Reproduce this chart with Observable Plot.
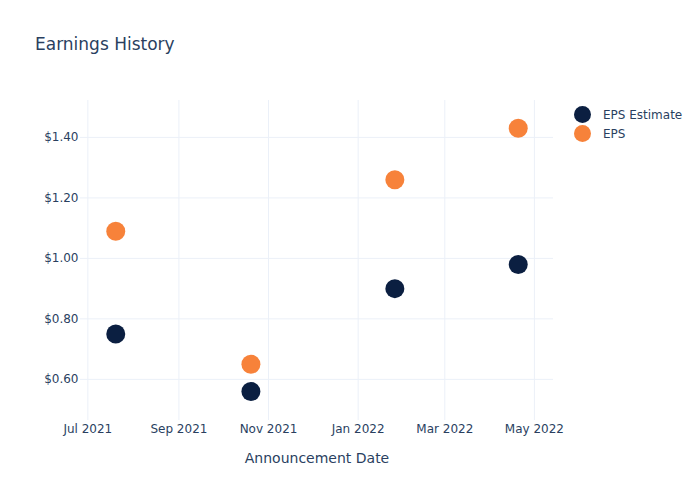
<!DOCTYPE html>
<html>
<head>
<meta charset="utf-8">
<script src="https://cdn.jsdelivr.net/npm/d3@7"></script>
<script src="https://cdn.jsdelivr.net/npm/@observablehq/plot@0.6"></script>
<style>
  html, body { margin: 0; padding: 0; background: #fff; }
  #wrap { position: relative; width: 700px; height: 500px; font-family: "DejaVu Sans", Verdana, sans-serif; color: #2a3f5f; }
  #title { position: absolute; left: 35px; top: 34px; font-size: 17px; color: #2a3f5f; white-space: nowrap; }
  #legend { position: absolute; left: 574px; top: 105px; font-size: 12px; color: #2a3f5f; }
  .item { display: flex; align-items: center; height: 19px; }
  .sw { width: 17px; height: 17px; border-radius: 50%; margin-right: 12px; }
  #chart { position: absolute; left: 0; top: 0; }
  #chart g[aria-label="x-axis label"] text { font-size: 14px; }
</style>
</head>
<body>
<div id="wrap">
  <div id="chart"></div>
  <div id="title">Earnings History</div>
  <div id="legend"></div>
</div>
<script>
const dates = ["2021-07-20", "2021-10-20", "2022-01-26", "2022-04-20"];
const epsEstimate = [0.75, 0.56, 0.90, 0.98];
const eps = [1.09, 0.65, 1.26, 1.43];
const seriesNames = ["EPS Estimate", "EPS"];
const seriesColors = ["#0b1f41", "#f7823a"];
const yTicks = [0.6, 0.8, 1.0, 1.2, 1.4];
const xTicks = ["2021-07-01", "2021-09-01", "2021-11-01", "2022-01-01", "2022-03-01", "2022-05-01"];

const parse = d3.utcParse("%Y-%m-%d");
const rows = [];
dates.forEach((d, i) => rows.push({date: parse(d), value: epsEstimate[i], series: seriesNames[0]}));
dates.forEach((d, i) => rows.push({date: parse(d), value: eps[i], series: seriesNames[1]}));

const chart = Plot.plot({
  width: 700,
  height: 500,
  marginLeft: 80,
  marginRight: 147,
  marginTop: 100,
  marginBottom: 80,
  style: {fontFamily: "DejaVu Sans, Verdana, sans-serif", fontSize: "12px", color: "#2a3f5f", background: "transparent"},
  x: {type: "utc", domain: [parse("2021-06-26"), parse("2022-05-14")]},
  y: {domain: [0.464, 1.522]},
  color: {domain: seriesNames, range: seriesColors},
  marks: [
    Plot.gridX(xTicks.map(parse), {stroke: "#ebf0f8", strokeOpacity: 1, strokeWidth: 1}),
    Plot.gridY(yTicks, {stroke: "#ebf0f8", strokeOpacity: 1, strokeWidth: 1}),
    Plot.axisY(yTicks, {tickSize: 0, tickPadding: 2, tickFormat: v => "$" + d3.format(".2f")(v), label: null, fill: "#2a3f5f"}),
    Plot.axisX(xTicks.map(parse), {tickSize: 0, tickPadding: 4, tickFormat: d3.utcFormat("%b %Y"), label: "Announcement Date", labelAnchor: "center", labelArrow: "none", labelOffset: 42, fill: "#2a3f5f"}),
    Plot.dot(rows, {x: "date", y: "value", fill: "series", r: 9.5, stroke: null})
  ]
});
document.getElementById("chart").appendChild(chart);

const legend = document.getElementById("legend");
seriesNames.forEach((name, i) => {
  const item = document.createElement("div");
  item.className = "item";
  const sw = document.createElement("div");
  sw.className = "sw";
  sw.style.background = seriesColors[i];
  const label = document.createElement("span");
  label.textContent = name;
  item.appendChild(sw);
  item.appendChild(label);
  legend.appendChild(item);
});
</script>
</body>
</html>
